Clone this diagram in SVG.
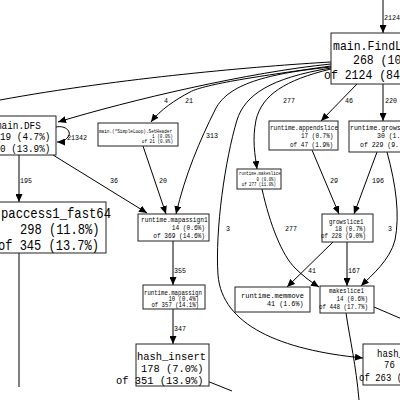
<svg xmlns="http://www.w3.org/2000/svg" width="400" height="400" viewBox="0 0 400 400">
<defs>
<marker id="a" markerUnits="userSpaceOnUse" markerWidth="8" markerHeight="7" refX="8" refY="3.5" orient="auto"><path d="M0,0 L8,3.5 L0,7 z" fill="#000"/></marker>
<style>
rect{fill:#fff;stroke:#222;stroke-width:1}
text{font-family:"Liberation Mono","DejaVu Sans Mono",monospace;fill:#000}
#edges path{fill:none;stroke:#000;stroke-width:1}
#edges path.ar{marker-end:url(#a)}
#edges text{font-size:8px}
</style>
</defs>
<rect x="0" y="0" width="400" height="400" style="fill:#fff;stroke:none"/>
<g id="edges">
<path class="ar" d="M383,0 L383,33"/>
<path d="M331,62 C260,66 120,78 0,100"/>
<path class="ar" d="M331,64 C250,72 130,100 58,122"/>
<path class="ar" d="M331,66 C260,76 205,84 190,92 C175,100 160,110 151,122"/>
<path class="ar" d="M331,67 C250,75 225,90 215,110 C200,140 185,175 176,214"/>
<path class="ar" d="M331,68 C270,78 245,95 237,120 C225,160 215,230 218,275 C222,325 280,350 363,358"/>
<path class="ar" d="M331,69 C285,80 262,95 256,120 C252,140 255,155 257,169"/>
<path class="ar" d="M357,84 L321,121"/>
<path class="ar" d="M383,84 L383,121"/>
<path class="ar" d="M56,127 C66,125 72,132 68,137 C65,141 61,142 57,142"/>
<path class="ar" d="M19,155 L19,202"/>
<path class="ar" d="M53,155 L147,213"/>
<path class="ar" d="M143,146 L166,214"/>
<path class="ar" d="M173,241 L173,285"/>
<path class="ar" d="M173,309 L173,344"/>
<path d="M19,253 L19,387"/>
<path class="ar" d="M312,150 L339,214"/>
<path class="ar" d="M377,152 L354,214"/>
<path class="ar" d="M387,152 C396,185 400,215 395,240 C390,260 372,275 361,286"/>
<path class="ar" d="M333,242 L287,287"/>
<path class="ar" d="M347,242 L347,286"/>
<path class="ar" d="M262,189 C270,225 282,255 295,268 C303,276 311,282 319,287"/>
<path d="M346,313 C350,340 356,365 359,400"/>
<path d="M374,307 L402,319"/>
<path d="M207,381 L232,391"/>
<text x="384" y="20" textLength="16" lengthAdjust="spacingAndGlyphs">2124</text>
<text x="164" y="103" textLength="4" lengthAdjust="spacingAndGlyphs">4</text>
<text x="185" y="103" textLength="8" lengthAdjust="spacingAndGlyphs">21</text>
<text x="283" y="103" textLength="12" lengthAdjust="spacingAndGlyphs">277</text>
<text x="345" y="103" textLength="8" lengthAdjust="spacingAndGlyphs">46</text>
<text x="385" y="103" textLength="12" lengthAdjust="spacingAndGlyphs">220</text>
<text x="67" y="139.5" textLength="20" lengthAdjust="spacingAndGlyphs">21342</text>
<text x="206" y="138" textLength="12" lengthAdjust="spacingAndGlyphs">313</text>
<text x="20" y="183" textLength="12" lengthAdjust="spacingAndGlyphs">195</text>
<text x="110" y="183" textLength="8" lengthAdjust="spacingAndGlyphs">36</text>
<text x="159" y="183" textLength="8" lengthAdjust="spacingAndGlyphs">20</text>
<text x="330" y="183" textLength="8" lengthAdjust="spacingAndGlyphs">29</text>
<text x="372" y="183" textLength="12" lengthAdjust="spacingAndGlyphs">196</text>
<text x="226" y="231" textLength="4" lengthAdjust="spacingAndGlyphs">3</text>
<text x="285" y="231" textLength="12" lengthAdjust="spacingAndGlyphs">277</text>
<text x="388" y="231" textLength="4" lengthAdjust="spacingAndGlyphs">3</text>
<text x="308" y="273" textLength="8" lengthAdjust="spacingAndGlyphs">41</text>
<text x="348" y="273" textLength="12" lengthAdjust="spacingAndGlyphs">167</text>
<text x="174" y="273" textLength="12" lengthAdjust="spacingAndGlyphs">355</text>
<text x="174" y="331" textLength="12" lengthAdjust="spacingAndGlyphs">347</text>
</g>
<g id="findloops" font-size="13">
<rect x="331" y="33" width="100" height="51"/>
<text x="333" y="50" textLength="69" lengthAdjust="spacingAndGlyphs">main.FindL</text>
<text x="353" y="64" textLength="48.3" lengthAdjust="spacingAndGlyphs">268 (10</text>
<text x="324" y="79" textLength="75.9" lengthAdjust="spacingAndGlyphs">of 2124 (84</text>
</g>
<g id="dfs" font-size="11">
<rect x="-40" y="116" width="96" height="39"/>
<text x="-4" y="129" textLength="44.8" lengthAdjust="spacingAndGlyphs">main.DFS</text>
<text x="0" y="140" textLength="50.4" lengthAdjust="spacingAndGlyphs">19 (4.7%)</text>
<text x="0" y="152" textLength="50.4" lengthAdjust="spacingAndGlyphs">0 (13.9%)</text>
</g>
<g id="mapaccess" font-size="14">
<rect x="-60" y="202" width="166" height="51"/>
<text x="1" y="218" textLength="110" lengthAdjust="spacingAndGlyphs">paccess1_fast64</text>
<text x="20" y="234" textLength="79.5" lengthAdjust="spacingAndGlyphs">298 (11.8%)</text>
<text x="-2" y="250" textLength="101" lengthAdjust="spacingAndGlyphs">of 345 (13.7%)</text>
</g>
<g id="setheader" font-size="5">
<rect x="98" y="123" width="80" height="23"/>
<text x="99" y="132.5" textLength="73" lengthAdjust="spacingAndGlyphs">main.(*SimpleLoop).SetHeader</text>
<text x="152" y="137.5" textLength="20.8" lengthAdjust="spacingAndGlyphs">1 (0.0%)</text>
<text x="141.8" y="143" textLength="31.2" lengthAdjust="spacingAndGlyphs">of 21 (0.8%)</text>
</g>
<g id="mapassign1" font-size="7">
<rect x="138" y="214" width="71" height="27"/>
<text x="141" y="222" textLength="66.6" lengthAdjust="spacingAndGlyphs">runtime.mapassign1</text>
<text x="171.7" y="230" textLength="33.3" lengthAdjust="spacingAndGlyphs">14 (0.6%)</text>
<text x="153.2" y="238" textLength="51.8" lengthAdjust="spacingAndGlyphs">of 369 (14.6%)</text>
</g>
<g id="mapassign" font-size="6.5">
<rect x="143" y="285" width="62" height="24"/>
<text x="144" y="295" textLength="57.8" lengthAdjust="spacingAndGlyphs">runtime.mapassign</text>
<text x="168.4" y="301" textLength="30.6" lengthAdjust="spacingAndGlyphs">10 (0.4%)</text>
<text x="151.4" y="307" textLength="47.6" lengthAdjust="spacingAndGlyphs">of 357 (14.1%)</text>
</g>
<g id="hashinsert" font-size="11">
<rect x="136" y="344" width="73" height="42"/>
<text x="137" y="359.5" textLength="69" lengthAdjust="spacingAndGlyphs">hash_insert</text>
<text x="141" y="371.5" textLength="62.5" lengthAdjust="spacingAndGlyphs">178 (7.0%)</text>
<text x="116" y="383.5" textLength="87.5" lengthAdjust="spacingAndGlyphs">of 351 (13.9%)</text>
</g>
<g id="appendslice" font-size="7">
<rect x="269" y="121" width="69" height="29"/>
<text x="270" y="130" textLength="68" lengthAdjust="spacingAndGlyphs">runtime.appendslice</text>
<text x="301" y="137.5" textLength="32.4" lengthAdjust="spacingAndGlyphs">17 (0.7%)</text>
<text x="290" y="146.5" textLength="43.2" lengthAdjust="spacingAndGlyphs">of 47 (1.9%)</text>
</g>
<g id="growslice" font-size="7.5">
<rect x="349" y="121" width="70" height="31"/>
<text x="350" y="130" textLength="50.7" lengthAdjust="spacingAndGlyphs">runtime.grows</text>
<text x="377" y="137.5" textLength="23.4" lengthAdjust="spacingAndGlyphs">30 (1.</text>
<text x="360" y="146.5" textLength="39" lengthAdjust="spacingAndGlyphs">of 229 (9.</text>
</g>
<g id="makeslice" font-size="4.8">
<rect x="237" y="169" width="44" height="20"/>
<text x="239" y="175" textLength="41.6" lengthAdjust="spacingAndGlyphs">runtime.makeslice</text>
<text x="256.4" y="180.5" textLength="19.6" lengthAdjust="spacingAndGlyphs">0 (0.0%)</text>
<text x="241.7" y="185.5" textLength="34.3" lengthAdjust="spacingAndGlyphs">of 277 (11.0%)</text>
</g>
<g id="growslice1" font-size="7">
<rect x="322" y="214" width="51" height="28"/>
<text x="329" y="223.5" textLength="34.5" lengthAdjust="spacingAndGlyphs">growslice1</text>
<text x="335" y="230.5" textLength="31" lengthAdjust="spacingAndGlyphs">18 (0.7%)</text>
<text x="321" y="238" textLength="45" lengthAdjust="spacingAndGlyphs">of 228 (9.0%)</text>
</g>
<g id="memmove" font-size="8">
<rect x="235" y="287" width="75" height="25"/>
<text x="241" y="297.5" textLength="63" lengthAdjust="spacingAndGlyphs">runtime.memmove</text>
<text x="267" y="305.5" textLength="36.5" lengthAdjust="spacingAndGlyphs">41 (1.6%)</text>
</g>
<g id="makeslice1" font-size="7">
<rect x="320" y="286" width="54" height="27"/>
<text x="329" y="293" textLength="35" lengthAdjust="spacingAndGlyphs">makeslice1</text>
<text x="336.5" y="300.5" textLength="31.5" lengthAdjust="spacingAndGlyphs">14 (0.6%)</text>
<text x="319" y="309" textLength="49" lengthAdjust="spacingAndGlyphs">of 448 (17.7%)</text>
</g>
<g id="hash" font-size="10">
<rect x="363" y="344" width="60" height="41"/>
<text x="377" y="357" textLength="27" lengthAdjust="spacingAndGlyphs">hash_</text>
<text x="384" y="368" textLength="10.8" lengthAdjust="spacingAndGlyphs">76</text>
<text x="359" y="381" textLength="43.2" lengthAdjust="spacingAndGlyphs">of 263 (</text>
</g>
</svg>
